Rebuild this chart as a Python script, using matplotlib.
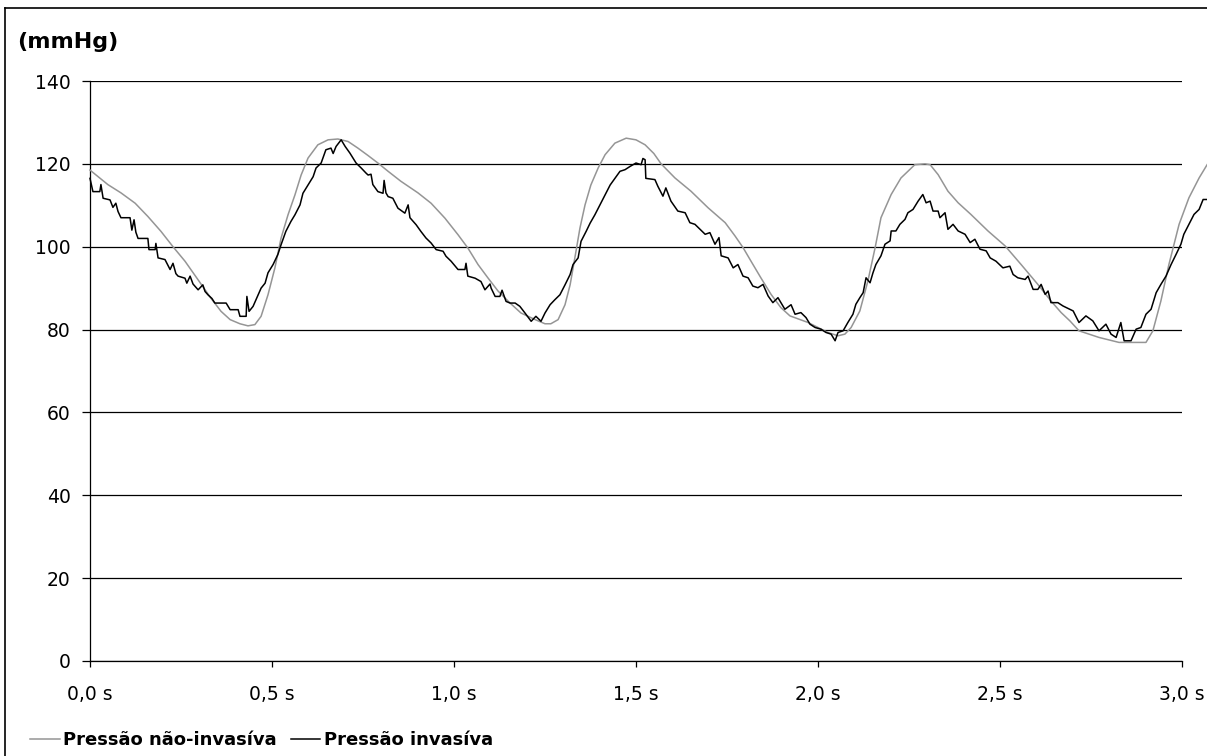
import numpy as np
import matplotlib
matplotlib.use("Agg")
import matplotlib.pyplot as plt
from matplotlib.lines import Line2D
from matplotlib.ticker import FixedLocator, FuncFormatter

plt.rcParams['font.family'] = ['DejaVu Sans']

# non-invasive (finger cuff) pressure, time in ms, pressure in mmHg
t_nao_inv = [0, 49, 85, 124, 159, 195, 228, 261, 297, 332, 360, 385, 412, 434, 453,
             470, 489, 508, 525, 544, 563, 580, 599, 626, 654, 681, 709, 736, 764, 791,
             819, 854, 901, 937, 975, 1011, 1038, 1066, 1093, 1121, 1154, 1184, 1223,
             1250, 1266, 1286, 1305, 1319, 1332, 1346, 1360, 1376, 1396, 1415, 1442,
             1473, 1500, 1525, 1549, 1569, 1607, 1651, 1698, 1745, 1772, 1794, 1816,
             1843, 1871, 1898, 1923, 1973, 2027, 2055, 2074, 2091, 2115, 2137, 2157,
             2173, 2201, 2228, 2266, 2294, 2308, 2330, 2357, 2385, 2420, 2467, 2514,
             2558, 2604, 2640, 2668, 2692, 2717, 2772, 2827, 2901, 2920, 2942, 2964,
             2992, 3019, 3047, 3069]
p_nao_inv = [118.5, 115, 113, 110.5, 107.3, 103.7, 100, 96.5, 92, 87.6, 84.4, 82.4, 81.4,
             80.9, 81.2, 83.2, 88.4, 94.9, 102.1, 107.7, 112.5, 117.3, 121.4, 124.6,
             125.8, 126, 125.4, 123.8, 122, 120.2, 118.2, 115.8, 113, 110.5, 106.9,
             102.9, 99.7, 95.7, 92.5, 89.3, 86.4, 84, 82.4, 81.4, 81.4, 82.4, 86, 90.8,
             97.3, 104.5, 110.1, 114.9, 119, 122.2, 125, 126.2, 125.8, 124.6, 122.5,
             120, 116.6, 113.4, 109.4, 105.8, 102.6, 99.8, 96.5, 92.5, 88.5, 85.3,
             83.3, 81.7, 79.3, 78.5, 78.9, 80.5, 84.5, 91.7, 99.8, 107, 112.6, 116.6,
             119.8, 120, 119.8, 117.4, 113.4, 110.6, 107.8, 103.8, 100.2, 95.7, 90.9,
             86.9, 84.1, 82.1, 79.7, 78.1, 76.9, 76.9, 79.7, 86.9, 95.7, 105.4, 111.8,
             116.6, 119.8]

# invasive (arterial line) pressure
t_inv = [0, 8, 27, 30, 36, 55, 63, 71, 77, 85, 110, 115, 121, 126, 132, 159, 162, 179,
         181, 187, 206, 220, 228, 236, 242, 261, 266, 275, 283, 297, 310, 316, 324, 335,
         343, 374, 385, 407, 412, 429, 431, 437, 448, 462, 470, 481, 489, 503, 516, 525,
         538, 552, 563, 577, 585, 599, 613, 621, 635, 648, 662, 668, 676, 690, 701, 714,
         731, 745, 758, 764, 772, 777, 791, 805, 808, 813, 819, 832, 846, 865, 874, 879,
         896, 909, 923, 937, 951, 970, 978, 992, 1011, 1030, 1033, 1038, 1058, 1074,
         1085, 1099, 1102, 1113, 1126, 1132, 1143, 1154, 1168, 1181, 1195, 1212, 1225,
         1239, 1250, 1264, 1277, 1291, 1305, 1319, 1327, 1341, 1349, 1363, 1374, 1387,
         1401, 1415, 1429, 1442, 1456, 1470, 1484, 1500, 1514, 1519, 1525, 1527, 1552,
         1560, 1574, 1582, 1596, 1615, 1635, 1648, 1662, 1676, 1690, 1703, 1717, 1728,
         1734, 1753, 1767, 1780, 1794, 1808, 1821, 1835, 1849, 1863, 1876, 1890, 1909,
         1926, 1937, 1953, 1967, 1978, 1992, 2008, 2022, 2036, 2047, 2055, 2069, 2082,
         2096, 2104, 2115, 2124, 2132, 2143, 2151, 2159, 2173, 2184, 2198, 2201, 2214,
         2225, 2239, 2247, 2261, 2275, 2288, 2297, 2308, 2316, 2330, 2335, 2349, 2357,
         2371, 2385, 2404, 2418, 2431, 2445, 2462, 2473, 2489, 2508, 2527, 2536, 2549,
         2569, 2577, 2591, 2604, 2613, 2624, 2632, 2640, 2659, 2673, 2692, 2701, 2717,
         2736, 2755, 2772, 2791, 2805, 2819, 2832, 2841, 2860, 2874, 2887, 2901, 2915,
         2929, 2942, 2956, 2970, 2984, 2997, 3005, 3019, 3033, 3047, 3058, 3069]
p_inv = [116.5, 113.3, 113.3, 115, 111.7, 111.3, 109.5, 110.5, 108.5, 107, 107, 104,
         106.5, 103.5, 102, 102, 99.3, 99.3, 100.8, 97.3, 96.9, 94.5, 96, 93.5, 92.9,
         92.4, 91.2, 92.9, 91, 89.6, 90.8, 89.2, 88.4, 87.5, 86.4, 86.4, 84.8, 84.8,
         83.2, 83.2, 88, 84.4, 85.6, 88.4, 90, 91.2, 93.7, 95.7, 98.1, 100.5, 103.7,
         106.1, 107.7, 110.1, 112.9, 114.9, 116.9, 119, 120.2, 123.4, 123.8, 122.5,
         124.2, 125.8, 124.2, 122.6, 120.2, 119, 117.8, 117.3, 117.5, 115, 113.3,
         112.9, 116, 113, 112.1, 111.7, 109.3, 108.1, 110.1, 107, 105.3, 103.7, 102.1,
         100.9, 99.3, 98.9, 97.7, 96.5, 94.5, 94.5, 96, 92.9, 92.4, 91.6, 89.6, 91, 90,
         88, 88, 89.5, 86.8, 86.4, 86.4, 85.6, 84, 82, 83.2, 82, 84, 86, 87.2, 88.4,
         90.8, 93.3, 95.7, 97.3, 101.3, 103.7, 105.7, 107.7, 110.1, 112.5, 114.9,
         116.5, 118.2, 118.6, 119.4, 120.2, 119.8, 121.3, 121, 116.5, 116.2, 114.6,
         112.2, 114.2, 111, 108.6, 108.2, 105.8, 105.4, 104.2, 103, 103.4, 100.6,
         102.2, 97.8, 97.3, 94.9, 95.7, 92.9, 92.5, 90.5, 90.1, 90.9, 88.1, 86.5,
         87.7, 84.9, 86, 83.7, 84.1, 82.9, 81.3, 80.5, 80.1, 79.3, 78.9, 77.3, 79.3,
         79.7, 81.7, 83.7, 86.1, 87.7, 88.9, 92.5, 91.3, 93.7, 95.7, 97.8, 100.6,
         101.4, 103.8, 103.8, 105.4, 106.6, 108.2, 109, 111, 112.6, 110.6, 111, 108.6,
         108.6, 107, 108.2, 104.2, 105.4, 103.8, 103, 101, 101.8, 99.4, 99, 97.3, 96.5,
         94.9, 95.3, 93.3, 92.5, 92.1, 92.9, 89.7, 89.7, 90.9, 88.5, 89.3, 86.5, 86.5,
         85.7, 84.9, 84.5, 81.7, 83.3, 82.1, 79.7, 81.3, 78.9, 78.1, 81.7, 77.3, 77.3,
         80.1, 80.5, 83.7, 84.9, 88.9, 90.9, 92.9, 95.7, 98.2, 100.6, 103, 105.4,
         107.8, 109, 111.4, 111.4]

x_ticks = [0.0, 0.5, 1.0, 1.5, 2.0, 2.5, 3.0]
y_ticks = [0, 20, 40, 60, 80, 100, 120, 140]

fig = plt.figure(figsize=(12.07, 7.56), dpi=100)
ax = fig.add_axes([90 / 1207, 1 - 661 / 756, 1092 / 1207, 580 / 756])

ax.plot(np.array(t_nao_inv) / 1000, p_nao_inv, color='#959595', lw=1.1,
        clip_on=False, label='Pressão não-invasíva', zorder=3)
ax.plot(np.array(t_inv) / 1000, p_inv, color='black', lw=1.1,
        clip_on=False, label='Pressão invasíva', zorder=4)

ax.set_xlim(0, 3.0)
ax.set_ylim(0, 140)
ax.xaxis.set_major_locator(FixedLocator(x_ticks))
ax.yaxis.set_major_locator(FixedLocator(y_ticks))
ax.xaxis.set_major_formatter(FuncFormatter(lambda v, pos: f"{v:.1f} s".replace('.', ',')))
ax.grid(axis='y', color='black', lw=0.9)
ax.set_axisbelow(True)
for side in ['top', 'right']:
    ax.spines[side].set_visible(False)
for side in ['left', 'bottom']:
    ax.spines[side].set_linewidth(0.9)
ax.tick_params(axis='y', direction='out', length=5.5, width=0.9, pad=8.5, labelsize=13.5)
ax.tick_params(axis='x', direction='out', length=4, width=0.9, pad=13, labelsize=13.5)

fig.text(17 / 1207, 1 - 42 / 756, '(mmHg)', fontsize=16, fontweight='bold',
         ha='left', va='center')

leg = fig.legend(loc='center left', bbox_to_anchor=(30 / 1207, 1 - 740 / 756),
                 ncol=2, frameon=False, borderpad=0, borderaxespad=0,
                 handlelength=1.65, handletextpad=0.2, columnspacing=0.75,
                 prop={'size': 13, 'weight': 'bold'})

# outer frame around the chart
fig.add_artist(Line2D([5 / 1207, 5 / 1207], [0, 1 - 8 / 756], color='black', lw=1.2))
fig.add_artist(Line2D([5 / 1207, 1], [1 - 8 / 756, 1 - 8 / 756], color='black', lw=1.2))

fig.savefig('out.png', dpi=100)
